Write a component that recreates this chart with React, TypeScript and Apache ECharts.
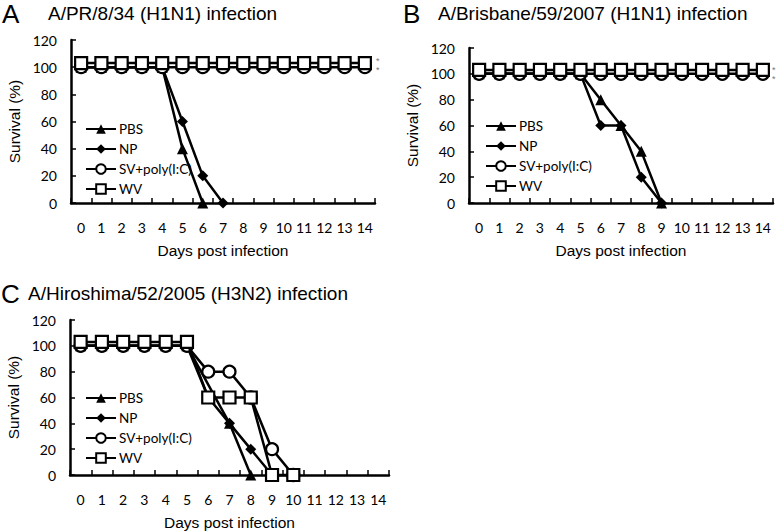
import React, { useEffect, useRef } from "react";
import * as echarts from "echarts";

const days = ["0", "1", "2", "3", "4", "5", "6", "7", "8", "9", "10", "11", "12", "13", "14"];
const yTicks = [0, 20, 40, 60, 80, 100, 120];
const seriesNames = ["PBS", "NP", "SV+poly(I:C)", "WV"];

// Panel A: A/PR/8/34 (H1N1)
const pbsA = [100, 100, 100, 100, 100, 40, 0];
const npA = [100, 100, 100, 100, 100, 60, 20, 0];
const svA = [100, 100, 100, 100, 100, 100, 100, 100, 100, 100, 100, 100, 100, 100, 100];
const wvA = [103, 103, 103, 103, 103, 103, 103, 103, 103, 103, 103, 103, 103, 103, 103];

// Panel B: A/Brisbane/59/2007 (H1N1)
const pbsB = [100, 100, 100, 100, 100, 100, 80, 60, 40, 0];
const npB = [100, 100, 100, 100, 100, 100, 60, 60, 20, 0];
const svB = [100, 100, 100, 100, 100, 100, 100, 100, 100, 100, 100, 100, 100, 100, 100];
const wvB = [103, 103, 103, 103, 103, 103, 103, 103, 103, 103, 103, 103, 103, 103, 103];

// Panel C: A/Hiroshima/52/2005 (H3N2)
const pbsC = [100, 100, 100, 100, 100, 100, 60, 40, 0];
const npC = [100, 100, 100, 100, 100, 100, null, 40, 20, 0];
const svC = [100, 100, 100, 100, 100, 100, 80, 80, 60, 20, 0];
const wvC = [103, 103, 103, 103, 103, 103, 60, 60, 60, 0, 0];

const panels = [
  { letter: "A", title: "A/PR/8/34 (H1N1) infection", data: [pbsA, npA, svA, wvA] },
  { letter: "B", title: "A/Brisbane/59/2007 (H1N1) infection", data: [pbsB, npB, svB, wvB] },
  { letter: "C", title: "A/Hiroshima/52/2005 (H3N2) infection", data: [pbsC, npC, svC, wvC] },
];

const grids = [
  { left: 71, top: 40, width: 304, height: 163 },
  { left: 469, top: 48, width: 304, height: 155 },
  { left: 70, top: 320, width: 319, height: 155 },
];
const legendPos = [
  { left: 80, top: 117 },
  { left: 480, top: 114 },
  { left: 80, top: 386 },
];
const titlePos = [
  { lx: 2, tx: 48, y: 15 },
  { lx: 403, tx: 438, y: 15 },
  { lx: 1, tx: 28, y: 295 },
];
const starPos = [
  { x: 376, y: 56 },
  { x: 376, y: 65 },
  { x: 772, y: 65 },
  { x: 772, y: 74 },
];

const TICK_FONT = "Lato, 'Noto Sans', sans-serif";
const ARIAL = "'Liberation Sans', Arial, sans-serif";

export default function App() {
  const ref = useRef<HTMLDivElement>(null);
  useEffect(() => {
    if (!ref.current) return;
    const chart = echarts.init(ref.current, null, { renderer: "svg" });
    const symbols = ["triangle", "diamond", "circle", "rect"];
    const sizes = [11, 11, 12, 12];

    const series: any[] = [];
    panels.forEach((p, gi) => {
      p.data.forEach((d, si) => {
        const hollow = si >= 2;
        series.push({
          type: "line",
          name: seriesNames[si],
          xAxisIndex: gi,
          yAxisIndex: gi,
          data: d,
          connectNulls: true,
          clip: false,
          symbol: symbols[si],
          symbolSize: sizes[si],
          showAllSymbol: true,
          z: 2 + si,
          lineStyle: { color: "#000", width: 2.5 },
          itemStyle: hollow
            ? { color: "#fff", borderColor: "#000", borderWidth: 2.2 }
            : { color: "#000", borderColor: "#000", borderWidth: 0 },
        });
      });
    });

    const graphic: any[] = [];
    panels.forEach((p, gi) => {
      graphic.push({
        type: "text",
        left: titlePos[gi].lx,
        top: titlePos[gi].y - 14,
        style: { text: p.letter, font: `26px ${ARIAL}`, fill: "#000" },
      });
      graphic.push({
        type: "text",
        left: titlePos[gi].tx,
        top: titlePos[gi].y - 11,
        style: { text: p.title, font: `19px ${ARIAL}`, fill: "#000" },
      });
    });
    starPos.forEach((s) =>
      graphic.push({
        type: "text",
        left: s.x,
        top: s.y,
        style: { text: "*", font: `9px ${ARIAL}`, fill: "#777" },
      })
    );

    chart.setOption({
      animation: false,
      backgroundColor: "#fff",
      grid: grids.map((g) => ({ ...g, containLabel: false })),
      xAxis: grids.map((_, gi) => ({
        type: "category",
        gridIndex: gi,
        data: days,
        boundaryGap: true,
        name: "Days post infection",
        nameLocation: "middle",
        nameGap: 39,
        nameTextStyle: { fontFamily: ARIAL, fontSize: 15.5, color: "#000" },
        axisLine: { show: true, onZero: false, lineStyle: { color: "#000", width: 2.5 } },
        axisTick: { show: true, inside: true, length: 5, lineStyle: { color: "#000", width: 1.5 } },
        axisLabel: { margin: 17, fontFamily: TICK_FONT, fontSize: 14, color: "#000", interval: 0 },
        splitLine: { show: false },
      })),
      yAxis: grids.map((_, gi) => ({
        type: "value",
        gridIndex: gi,
        min: yTicks[0],
        max: yTicks[yTicks.length - 1],
        interval: 20,
        name: "Survival (%)",
        nameLocation: "middle",
        nameRotate: 90,
        nameGap: 49,
        nameTextStyle: { fontFamily: ARIAL, fontSize: 15.5, color: "#000" },
        axisLine: { show: true, lineStyle: { color: "#000", width: 2.5 } },
        axisTick: { show: true, inside: true, length: 5, lineStyle: { color: "#000", width: 1.5 } },
        axisLabel: { margin: 14, fontFamily: TICK_FONT, fontSize: 14, color: "#000" },
        splitLine: { show: false },
      })),
      legend: legendPos.map((lp) => ({
        left: lp.left,
        top: lp.top,
        orient: "vertical",
        itemWidth: 30,
        itemHeight: 12,
        itemGap: 6,
        selectedMode: false,
        data: seriesNames,
        textStyle: { fontFamily: TICK_FONT, fontSize: 13.5, color: "#000", padding: [0, 0, 0, -2] },
      })),
      series,
      graphic,
    });
    return () => chart.dispose();
  }, []);
  return (
    <div
      ref={ref}
      style={{ position: "fixed", left: 0, top: 0, width: 777, height: 531, background: "#fff" }}
    />
  );
}
